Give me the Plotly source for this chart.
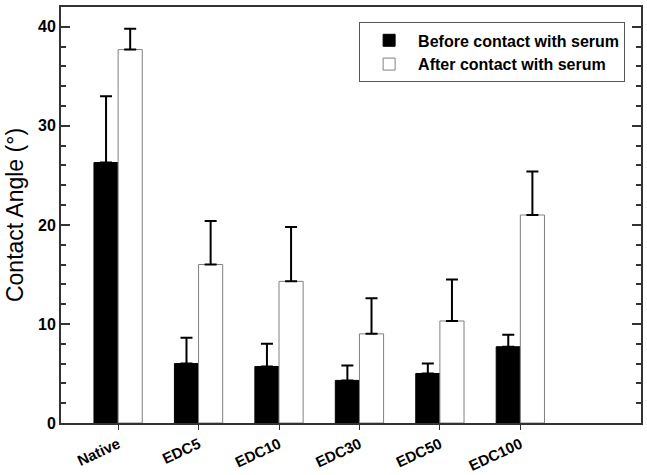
import plotly.graph_objects as go

categories = ["Native", "EDC5", "EDC10", "EDC30", "EDC50", "EDC100"]
before_vals = [26.3, 6.0, 5.7, 4.3, 5.0, 7.7]
before_err = [6.7, 2.6, 2.3, 1.5, 1.0, 1.2]
after_vals = [37.7, 16.0, 14.3, 9.0, 10.3, 21.0]
after_err = [2.1, 4.4, 5.5, 3.6, 4.2, 4.4]
y_ticks = [0, 10, 20, 30, 40]

fig = go.Figure()
fig.add_trace(go.Bar(
    x=categories, y=before_vals, name="Before contact with serum",
    width=0.3, offset=-0.3,
    marker=dict(color="black", line=dict(color="black", width=1)),
    error_y=dict(type="data", array=before_err, arrayminus=[0]*6, symmetric=False,
                 color="black", thickness=2, width=6),
))
fig.add_trace(go.Bar(
    x=categories, y=after_vals, name="After contact with serum",
    width=0.3, offset=0,
    marker=dict(color="white", line=dict(color="#808080", width=1)),
    error_y=dict(type="data", array=after_err, arrayminus=[0]*6, symmetric=False,
                 color="black", thickness=2, width=6),
))
# invisible helper trace so the mirrored right axis (with minor ticks) is drawn
fig.add_trace(go.Scatter(
    x=categories, y=before_vals, yaxis="y2", mode="markers",
    marker=dict(opacity=0), showlegend=False, hoverinfo="skip",
))

axis_color = "#333333"
fig.update_layout(
    width=647, height=475,
    margin=dict(l=61, r=6, t=7, b=52),
    paper_bgcolor="white", plot_bgcolor="white",
    barmode="overlay",
    font=dict(family="Arial, Liberation Sans, sans-serif", color="black"),
    showlegend=True,
    legend=dict(
        x=0.514, y=0.963, xanchor="left", yanchor="top",
        bordercolor="#555555", borderwidth=1, bgcolor="white",
        font=dict(size=16, family="Arial, Liberation Sans, sans-serif", weight="bold"),
        itemwidth=48, tracegroupgap=2,
    ),
    xaxis=dict(
        type="category", range=[-0.71, 6.5], automargin=False,
        showline=True, linecolor=axis_color, linewidth=2, mirror=True,
        ticks="outside", ticklen=5, tickcolor=axis_color,
        tickangle=-25,
        tickfont=dict(size=15, weight="bold"),
        showgrid=False, zeroline=False,
    ),
    yaxis=dict(
        range=[0, 42.0], automargin=False,
        tickvals=y_ticks,
        showline=True, linecolor=axis_color, linewidth=2,
        ticks="inside", ticklen=9, tickcolor=axis_color, tickwidth=1.5,
        minor=dict(dtick=2, ticks="inside", ticklen=5, tickcolor=axis_color, showgrid=False),
        tickfont=dict(size=16, weight="bold"),
        title=dict(text="Contact Angle (°)", font=dict(size=23), standoff=8),
        showgrid=False, zeroline=False,
    ),
    yaxis2=dict(
        range=[0, 42.0], overlaying="y", side="right", automargin=False,
        tickvals=y_ticks, showticklabels=False,
        showline=True, linecolor=axis_color, linewidth=2,
        ticks="inside", ticklen=9, tickcolor=axis_color, tickwidth=1.5,
        minor=dict(dtick=2, ticks="inside", ticklen=5, tickcolor=axis_color, showgrid=False),
        showgrid=False, zeroline=False,
    ),
)

fig.write_html("out.html", config={"displayModeBar": False},
               post_script="document.body.style.margin='0';")
